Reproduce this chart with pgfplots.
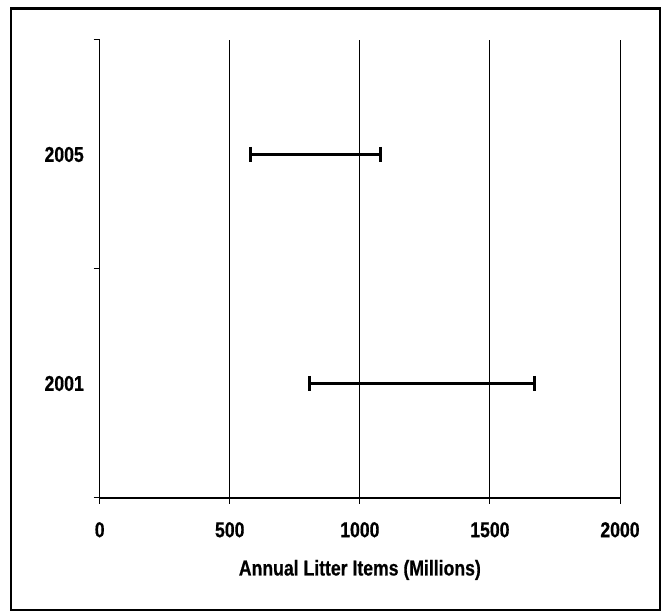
\documentclass[border=0pt]{standalone}
\usepackage{fontspec}
\setmainfont{Liberation Sans}[FakeStretch=0.82, BoldFeatures={FakeBold=0.6}]
\usepackage{pgfplots}
\pgfplotsset{compat=1.18}
\begin{document}
\begin{tikzpicture}
\path[use as bounding box] (0,0) rectangle (662pt,612pt);
\draw[line width=2.5pt] (11pt,1.8pt) rectangle (660.2pt,603.5pt);
\begin{axis}[
  at={(99.7pt,114pt)}, anchor=south west,
  scale only axis, width=520.3pt, height=458pt,
  xmin=0, xmax=2000, ymin=0, ymax=2,
  axis x line*=bottom, axis y line*=left,
  axis line style={line width=1.2pt, black},
  xtick={0,500,1000,1500,2000},
  ytick={0,1,2}, yticklabels={},
  extra y ticks={0.5,1.5}, extra y tick labels={2001,2005},
  extra y tick style={major tick length=0pt, yticklabel style={anchor=east, inner sep=0pt, xshift=-15.7pt}},
  tick align=outside, major tick length=6pt,
  tick style={line width=1pt, black},
  xmajorgrids, grid style={black, line width=1pt},
  /pgf/number format/assume math mode=true,
  /pgf/number format/set thousands separator={},
  ticklabel style={font=\bfseries\fontsize{21.5}{25}\selectfont},
  xticklabel style={anchor=north, inner sep=0pt, yshift=-18pt},
  xlabel={Annual Litter Items (Millions)},
  xlabel style={at={(axis description cs:0.5,0)}, anchor=base, yshift=-77.5pt, font=\bfseries\fontsize{21.5}{25}\selectfont},
  clip=false,
]
\addplot[black, line width=2.7pt, mark=|, mark indices={1,3}, mark size=7.5pt, mark options={line width=3pt}]
  coordinates {(581,1.5) (830,1.5) (1080,1.5)};
\addplot[black, line width=2.7pt, mark=|, mark indices={1,3}, mark size=7.5pt, mark options={line width=3pt}]
  coordinates {(805,0.5) (1238,0.5) (1670,0.5)};
\end{axis}
\end{tikzpicture}
\end{document}
